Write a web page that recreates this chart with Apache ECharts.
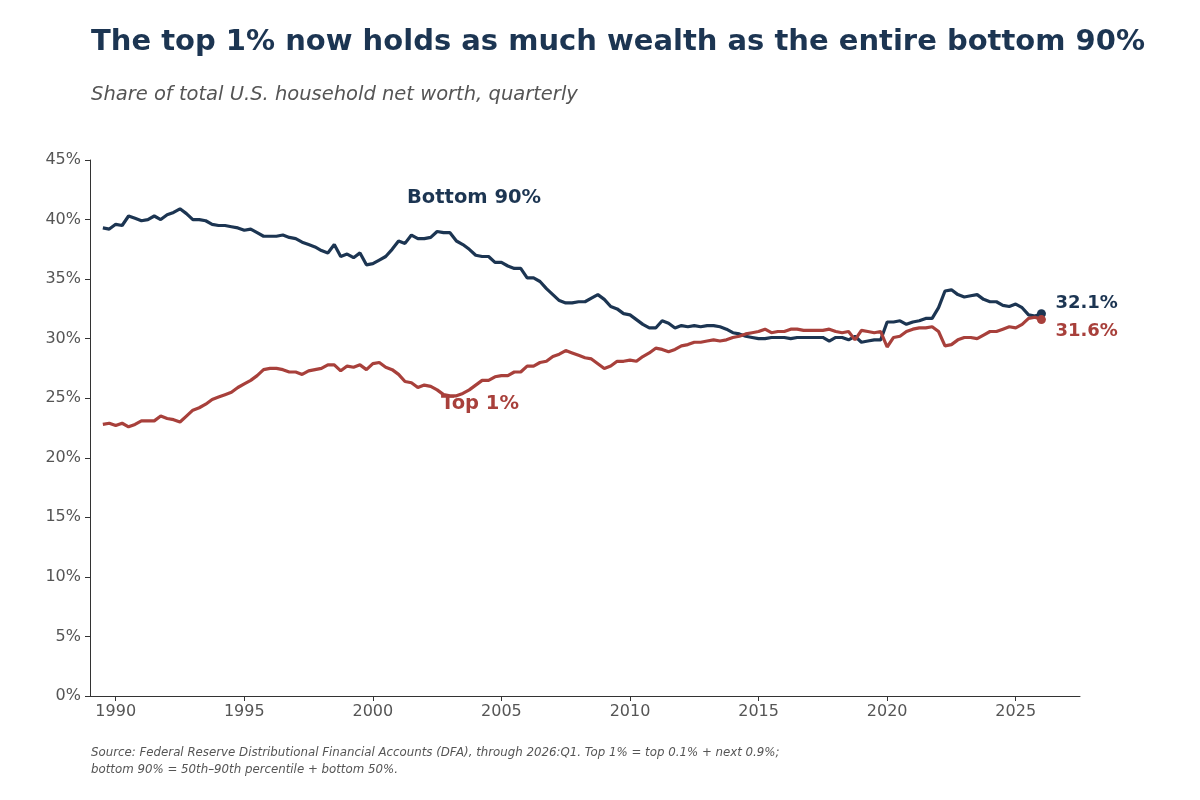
<!DOCTYPE html>
<html>
<head>
<meta charset="utf-8">
<script src="https://cdn.jsdelivr.net/npm/echarts@6/dist/echarts.min.js"></script>
<style>html,body{margin:0;padding:0;background:#fff;}#chart{width:1200px;height:800px;}</style>
</head>
<body>
<div id="chart"></div>
<script>
// First quarter shown: 1989 Q3; one value per quarter through 2026 Q1
const firstYear = 1989, firstQuarter = 3;

const bottom90 = [
  39.3, 39.2, 39.6, 39.5, 40.3, 40.1, 39.9, 40.0, 40.3, 40.0,
  40.4, 40.6, 40.9, 40.5, 40.0, 40.0, 39.9, 39.6, 39.5, 39.5,
  39.4, 39.3, 39.1, 39.2, 38.9, 38.6, 38.6, 38.6, 38.7, 38.5,
  38.4, 38.1, 37.9, 37.7, 37.4, 37.2, 37.9, 36.9, 37.1, 36.8,
  37.2, 36.2, 36.3, 36.6, 36.9, 37.5, 38.2, 38.0, 38.7, 38.4,
  38.4, 38.5, 39.0, 38.9, 38.9, 38.2, 37.9, 37.5, 37.0, 36.9,
  36.9, 36.4, 36.4, 36.1, 35.9, 35.9, 35.1, 35.1, 34.8, 34.2,
  33.7, 33.2, 33.0, 33.0, 33.1, 33.1, 33.4, 33.7, 33.3, 32.7,
  32.5, 32.1, 32.0, 31.6, 31.2, 30.9, 30.9, 31.5, 31.3, 30.9,
  31.1, 31.0, 31.1, 31.0, 31.1, 31.1, 31.0, 30.8, 30.5, 30.4,
  30.2, 30.1, 30.0, 30.0, 30.1, 30.1, 30.1, 30.0, 30.1, 30.1,
  30.1, 30.1, 30.1, 29.8, 30.1, 30.1, 29.9, 30.2, 29.7, 29.8,
  29.9, 29.9, 31.4, 31.4, 31.5, 31.2, 31.4, 31.5, 31.7, 31.7,
  32.6, 34.0, 34.1, 33.7, 33.5, 33.6, 33.7, 33.3, 33.1, 33.1,
  32.8, 32.7, 32.9, 32.6, 32.0, 31.9, 32.1
];

const top1 = [
  22.8, 22.9, 22.7, 22.9, 22.6, 22.8, 23.1, 23.1, 23.1, 23.5,
  23.3, 23.2, 23.0, 23.5, 24.0, 24.2, 24.5, 24.9, 25.1, 25.3,
  25.5, 25.9, 26.2, 26.5, 26.9, 27.4, 27.5, 27.5, 27.4, 27.2,
  27.2, 27.0, 27.3, 27.4, 27.5, 27.8, 27.8, 27.3, 27.7, 27.6,
  27.8, 27.4, 27.9, 28.0, 27.6, 27.4, 27.0, 26.4, 26.3, 25.9,
  26.1, 26.0, 25.7, 25.3, 25.2, 25.2, 25.4, 25.7, 26.1, 26.5,
  26.5, 26.8, 26.9, 26.9, 27.2, 27.2, 27.7, 27.7, 28.0, 28.1,
  28.5, 28.7, 29.0, 28.8, 28.6, 28.4, 28.3, 27.9, 27.5, 27.7,
  28.1, 28.1, 28.2, 28.1, 28.5, 28.8, 29.2, 29.1, 28.9, 29.1,
  29.4, 29.5, 29.7, 29.7, 29.8, 29.9, 29.8, 29.9, 30.1, 30.2,
  30.4, 30.5, 30.6, 30.8, 30.5, 30.6, 30.6, 30.8, 30.8, 30.7,
  30.7, 30.7, 30.7, 30.8, 30.6, 30.5, 30.6, 29.9, 30.7, 30.6,
  30.5, 30.6, 29.3, 30.1, 30.2, 30.6, 30.8, 30.9, 30.9, 31.0,
  30.6, 29.4, 29.5, 29.9, 30.1, 30.1, 30.0, 30.3, 30.6, 30.6,
  30.8, 31.0, 30.9, 31.2, 31.7, 31.8, 31.6
];

const yearTicks = [1990, 1995, 2000, 2005, 2010, 2015, 2020, 2025];
const seriesNames = ['Bottom 90%', 'Top 1%'];
const endLabels = ['32.1%', '31.6%'];

const NAVY = '#1c3552';
const RED = '#a8403b';

// quarter -> decimal year (quarter start)
function quarterTime(i) {
  const q = (firstQuarter - 1) + i;
  return firstYear + Math.floor(q / 4) + (q % 4) / 4;
}
const pairs = arr => arr.map((v, i) => [quarterTime(i), v]);
const bData = pairs(bottom90);
const tData = pairs(top1);

const chart = echarts.init(document.getElementById('chart'), null, { renderer: 'canvas' });
const FONT = 'DejaVu Sans';

chart.setOption({
  backgroundColor: '#ffffff',
  animation: false,
  textStyle: { fontFamily: FONT },
  title: [
    {
      text: 'The top 1% now holds as much wealth as the entire bottom 90%',
      left: 86, top: 23,
      textStyle: { fontFamily: FONT, fontSize: 29, fontWeight: 'bold', color: NAVY }
    },
    {
      text: 'Share of total U.S. household net worth, quarterly',
      left: 86, top: 80,
      textStyle: { fontFamily: FONT, fontSize: 19.5, fontStyle: 'italic', fontWeight: 'normal', color: '#555555' }
    },
    {
      text: 'Source: Federal Reserve Distributional Financial Accounts (DFA), through 2026:Q1. Top 1% = top 0.1% + next 0.9%;\nbottom 90% = 50th–90th percentile + bottom 50%.',
      left: 86, top: 739,
      textStyle: { fontFamily: FONT, fontSize: 11.8, fontStyle: 'italic', fontWeight: 'normal', color: '#555555', lineHeight: 17 }
    }
  ],
  grid: { left: 90, right: 120, top: 160, bottom: 104, containLabel: false },
  xAxis: {
    type: 'value', min: 1989, max: 2027.5,
    splitLine: { show: false },
    axisLine: { show: true, lineStyle: { color: '#333333', width: 1 } },
    axisTick: { show: true, customValues: yearTicks, length: 5, lineStyle: { color: '#333333' } },
    axisLabel: { customValues: yearTicks, formatter: v => String(v), color: '#555555', fontSize: 16, fontFamily: FONT, margin: 8 }
  },
  yAxis: {
    type: 'value', min: 0, max: 45, interval: 5,
    splitLine: { show: false },
    axisLine: { show: true, lineStyle: { color: '#333333', width: 1 } },
    axisTick: { show: true, length: 5, lineStyle: { color: '#333333' } },
    axisLabel: { formatter: '{value}%', color: '#555555', fontSize: 16, fontFamily: FONT, margin: 9 }
  },
  series: [
    {
      name: seriesNames[0], type: 'line', data: bData, showSymbol: false,
      lineStyle: { color: NAVY, width: 3.2 }, itemStyle: { color: NAVY }, z: 3,
      endLabel: {
        show: true, formatter: endLabels[0], distance: 0, offset: [14, -10],
        color: NAVY, fontSize: 18, fontWeight: 'bold', fontFamily: FONT
      }
    },
    {
      name: seriesNames[1], type: 'line', data: tData, showSymbol: false,
      lineStyle: { color: RED, width: 3.2 }, itemStyle: { color: RED }, z: 4,
      endLabel: {
        show: true, formatter: endLabels[1], distance: 0, offset: [14, 12],
        color: RED, fontSize: 18, fontWeight: 'bold', fontFamily: FONT
      }
    },
    {
      type: 'scatter', data: [bData[bData.length - 1]], symbolSize: 9,
      itemStyle: { color: NAVY, opacity: 1 }, z: 5, silent: true
    },
    {
      type: 'scatter', data: [tData[tData.length - 1]], symbolSize: 9,
      itemStyle: { color: RED, opacity: 1 }, z: 6, silent: true
    }
  ],
  graphic: [
    {
      type: 'text', left: 407, top: 188, z: 10,
      style: { text: seriesNames[0], fill: NAVY, font: 'bold 19.5px "DejaVu Sans"' }
    },
    {
      type: 'text', left: 441, top: 394, z: 10,
      style: { text: seriesNames[1], fill: RED, font: 'bold 19.5px "DejaVu Sans"' }
    }
  ]
});
</script>
</body>
</html>
